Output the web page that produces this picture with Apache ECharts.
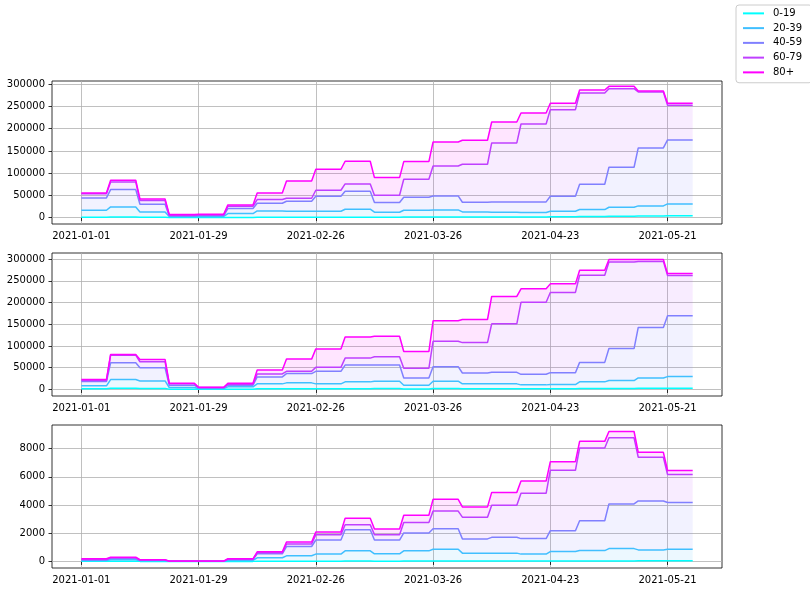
<!DOCTYPE html>
<html>
<head>
<meta charset="utf-8">
<script src="https://cdn.jsdelivr.net/npm/echarts@6/dist/echarts.min.js"></script>
<style>
  html, body { margin: 0; padding: 0; background: #fff; }
  #chart { width: 810px; height: 593px; }
</style>
</head>
<body>
<div id="chart"></div>
<script>
// age groups (legend order, bottom of the stack first)
var ageGroups = ['0-19', '20-39', '40-59', '60-79', '80+']

// weekly values: top of each stacked band (cumulative)
// panel 1
var a019 = [800, 1000, 600, 200, 200, 400, 700, 700, 800, 900, 700, 1000, 1200, 1200, 1300, 1500, 2000, 2500, 3000, 3500, 4000]
var a2039 = [16500, 24000, 12750, 2250, 2500, 9000, 15000, 14250, 14250, 18750, 12000, 16500, 17250, 12750, 12000, 11250, 14250, 18000, 23250, 26250, 30750]
var a4059 = [44250, 63000, 30000, 3750, 4500, 20250, 32250, 36750, 48000, 59250, 33750, 45750, 48750, 34500, 35250, 35250, 48000, 75000, 113250, 156750, 174750]
var a6079 = [53500, 80250, 38250, 5250, 6000, 25500, 40500, 43500, 61500, 75750, 50250, 86250, 116250, 120000, 168000, 210750, 243000, 280500, 290250, 282750, 252750]
var a80 = [55500, 84000, 42000, 6750, 7500, 28500, 55500, 82500, 108750, 126750, 90000, 126000, 170250, 174000, 215250, 235500, 257250, 287250, 295500, 285000, 257250]
// panel 2
var b019 = [1500, 3000, 2500, 800, 500, 800, 1500, 1800, 1500, 1800, 2000, 1200, 2000, 1800, 1800, 1500, 1600, 2000, 2500, 2800, 3000]
var b2039 = [8400, 22800, 19700, 4600, 2300, 6100, 12900, 15200, 12900, 17500, 19000, 9900, 19000, 12900, 12900, 10600, 11400, 17500, 20500, 26600, 29600]
var b4059 = [18200, 61500, 50100, 9900, 3800, 9900, 28900, 36500, 41800, 56200, 56200, 26600, 52400, 38000, 39500, 34900, 38700, 62300, 94200, 142800, 169400]
var b6079 = [20500, 79000, 63800, 12900, 4600, 12200, 35700, 41800, 50900, 72200, 75200, 48600, 110900, 107800, 151100, 200500, 223300, 262800, 293200, 294700, 262000]
var b80 = [22800, 80500, 69100, 14400, 5300, 14400, 44800, 69900, 93400, 120800, 122300, 87300, 158000, 161000, 214200, 231600, 243000, 274200, 299200, 299200, 266600]
// panel 3
var c019 = [10, 10, 5, 0, 0, 5, 10, 15, 20, 25, 20, 25, 30, 25, 25, 25, 30, 35, 40, 45, 50]
var c2039 = [70, 120, 50, 15, 15, 70, 260, 400, 520, 750, 540, 750, 870, 590, 590, 520, 700, 770, 910, 820, 870]
var c4059 = [120, 210, 80, 20, 20, 130, 540, 1060, 1520, 2250, 1520, 2020, 2320, 1600, 1710, 1620, 2180, 2890, 4080, 4290, 4180]
var c6079 = [140, 260, 100, 22, 22, 160, 610, 1240, 1900, 2600, 1900, 2770, 3570, 3140, 3990, 4830, 6470, 8050, 8770, 7390, 6170]
var c80 = [190, 300, 120, 25, 25, 190, 680, 1380, 2090, 3070, 2300, 3280, 4410, 3870, 4900, 5700, 7080, 8520, 9220, 7740, 6450]

var panels = [
    [a019, a2039, a4059, a6079, a80],
    [b019, b2039, b4059, b6079, b80],
    [c019, c2039, c4059, c6079, c80]
]

// y ticks per panel
var yTicks1 = [0, 50000, 100000, 150000, 200000, 250000, 300000]
var yTicks3 = [0, 2000, 4000, 6000, 8000]
var yTicks = [yTicks1, yTicks1, yTicks3]
var yRange = [[-14500, 307500], [-15000, 314000], [-465, 9680]]

// x: one category per day, with a week of margin on both sides
var firstDay = '2021-01-01'
var padDays = 7
var nDays = 161
var tickStep = 28

var colors = ['#00ffff', '#40bfff', '#8080ff', '#bf40ff', '#ff00ff']
var font = 'DejaVu Sans'

var dates = []
var t0 = Date.parse(firstDay + 'T00:00:00Z') - padDays * 86400000
for (var i = 0; i < nDays; i++) {
    dates.push(new Date(t0 + i * 86400000).toISOString().slice(0, 10))
}

// each weekly value holds for 7 days
function toDaily(weekly) {
    var out = []
    for (var k = 0; k < padDays; k++) out.push('-')
    weekly.forEach(function (v) {
        for (var d = 0; d < 7; d++) out.push(v)
    })
    return out
}

function showTick(index) {
    return index >= padDays && (index - padDays) % tickStep === 0
}

var grids = [], xAxes = [], yAxes = [], series = []
var tops = [81, 253, 425]

panels.forEach(function (levels, p) {
    grids.push({
        left: 52, width: 670, top: tops[p], height: 143,
        show: true, borderColor: '#000', borderWidth: 0.8, backgroundColor: '#fff'
    })
    xAxes.push({
        gridIndex: p,
        type: 'category',
        data: dates,
        boundaryGap: false,
        axisLine: { show: false },
        axisTick: { show: true, interval: showTick, length: 3.5, lineStyle: { color: '#000', width: 0.8 } },
        axisLabel: { interval: showTick, margin: 7, color: '#000', fontSize: 10, fontFamily: font },
        splitLine: { show: true, interval: showTick, lineStyle: { color: '#b0b0b0', width: 0.8 } }
    })
    yAxes.push({
        gridIndex: p,
        type: 'value',
        min: yRange[p][0],
        max: yRange[p][1],
        splitNumber: 5,
        axisLine: { show: false },
        axisTick: { show: true, length: 3.5, customValues: yTicks[p], lineStyle: { color: '#000', width: 0.8 } },
        axisLabel: {
            margin: 7, color: '#000', fontSize: 10, fontFamily: font, customValues: yTicks[p],
            formatter: function (v) { return String(v) }
        },
        splitLine: { show: true, lineStyle: { color: '#b0b0b0', width: 0.8 } }
    })
    // stacked bands = difference between consecutive levels
    levels.forEach(function (lv, g) {
        var band = lv.map(function (v, w) {
            return g === 0 ? v : v - levels[g - 1][w]
        })
        series.push({
            name: ageGroups[g],
            type: 'line',
            xAxisIndex: p,
            yAxisIndex: p,
            stack: 'panel' + p,
            data: toDaily(band),
            showSymbol: false,
            symbol: 'none',
            color: colors[g],
            lineStyle: { width: 1.5, color: colors[g] },
            areaStyle: { color: colors[g], opacity: 0.1 }
        })
    })
})

var myChart = echarts.init(document.getElementById('chart'))

var option = {
    animation: false,
    backgroundColor: '#fff',
    textStyle: { fontFamily: font },
    legend: {
        data: ageGroups,
        orient: 'vertical',
        left: 736,
        top: 5,
        icon: 'rect',
        itemWidth: 21,
        itemHeight: 2,
        itemGap: 0,
        padding: [1, 10, 3, 7],
        borderColor: '#cccccc',
        borderWidth: 1,
        borderRadius: 3,
        backgroundColor: '#fff',
        textStyle: { fontSize: 10, color: '#000', fontFamily: font, lineHeight: 14.75, padding: [0, 0, 0, 4] }
    },
    grid: grids,
    xAxis: xAxes,
    yAxis: yAxes,
    series: series
}

myChart.setOption(option)
</script>
</body>
</html>
